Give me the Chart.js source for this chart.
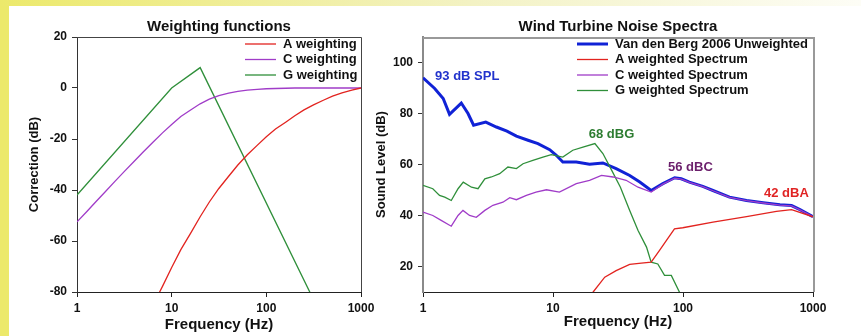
<!DOCTYPE html>
<html>
<head>
<meta charset="utf-8">
<script src="https://cdn.jsdelivr.net/npm/chart.js@4.4.1/dist/chart.umd.min.js"></script>
<style>
    body { margin: 0; background: #ffffff; }
    #page { position: relative; width: 861px; height: 336px; overflow: hidden; }
    #leftBar { position: absolute; left: 0; top: 0; width: 9px; height: 336px; background: #ece96b; }
    #topBar { position: absolute; left: 0; top: 0; width: 861px; height: 6px; background: linear-gradient(to right, #ece96b, #f3f2c4 55%, #fdfdf6); }
    #chartLeft { position: absolute; left: 9px; top: 6px; }
    #chartRight { position: absolute; left: 365px; top: 6px; }
</style>
</head>
<body>
<div id="page">
    <div id="leftBar"></div>
    <div id="topBar"></div>
    <canvas id="chartLeft" width="381" height="330"></canvas>
    <canvas id="chartRight" width="496" height="330"></canvas>
</div>
<script>
// Weighting functions (correction in dB)
const aWeightFreq = [6.3, 8, 10, 12.5, 16, 20, 25, 31.5, 40, 50, 63, 80, 100, 125, 160, 200, 250, 315, 400, 500, 630, 800, 1000];
const aWeightDb = [-85.4, -77.8, -70.4, -63.4, -56.7, -50.5, -44.7, -39.4, -34.6, -30.2, -26.2, -22.5, -19.1, -16.1, -13.4, -10.9, -8.6, -6.6, -4.8, -3.2, -1.9, -0.8, 0];
const cWeightFreq = [1, 1.25, 1.6, 2, 2.5, 3.15, 4, 5, 6.3, 8, 10, 12.5, 16, 20, 25, 31.5, 40, 50, 63, 80, 100, 125, 160, 200, 315, 500, 1000];
const cWeightDb = [-52.5, -48.7, -44.4, -40.6, -36.7, -32.8, -28.8, -25.1, -21.4, -17.6, -14.3, -11.2, -8.5, -6.2, -4.4, -3.0, -2.0, -1.3, -0.8, -0.5, -0.3, -0.2, -0.1, 0, 0, 0, 0];
const gWeightFreq = [1, 10, 20, 315];
const gWeightDb = [-42, 0, 8, -83];

// Wind turbine spectra (sound level in dB)
const unweightedFreq = [1, 1.23, 1.43, 1.6, 1.97, 2.22, 2.45, 3.04, 3.67, 4.42, 5.23, 6.42, 7.66, 9.43, 10.6, 11.9, 15.1, 19.1, 24.2, 30.6, 38.9, 46.5, 56.9, 70, 86.3, 97, 112, 142, 170, 228, 308, 414, 557, 684, 794, 1000];
const unweightedDb = [94, 89.8, 85.9, 79.7, 84.1, 80.0, 75.4, 76.6, 74.7, 73.1, 71.1, 69.5, 68.2, 65.8, 63.6, 61.0, 61.0, 60.1, 60.6, 58.4, 55.7, 53.1, 49.8, 52.5, 54.8, 54.4, 53.1, 51.4, 49.8, 47.2, 45.9, 45.0, 44.2, 43.9, 42.3, 39.5];
const aSpecFreq = [18, 20.3, 25, 30.6, 38.9, 47.8, 56.9, 66, 74.6, 86, 99.6, 170, 308, 523, 684, 1000];
const aSpecDb = [6, 9.9, 15.8, 18.4, 20.8, 21.3, 21.7, 26.3, 30.2, 34.8, 35.2, 37.4, 39.6, 41.6, 42.3, 39.5];
const cSpecFreq = [1, 1.19, 1.38, 1.65, 1.86, 2.03, 2.28, 2.57, 2.99, 3.45, 4.12, 4.65, 5.23, 6.24, 7.4, 8.9, 11.2, 15.1, 19.1, 23.6, 29, 36.5, 45.1, 56.9, 70, 86.3, 97, 112, 142, 170, 228, 308, 414, 557, 684, 794, 1000];
const cSpecDb = [41.3, 40, 38.1, 35.8, 40, 42, 40, 39.3, 42, 44, 45.2, 47, 46.2, 47.9, 49.2, 50.1, 49.2, 52.5, 53.8, 55.7, 55.1, 53.8, 51.1, 49.2, 52.3, 54.6, 54.3, 53.0, 51.3, 49.7, 47.1, 45.8, 44.9, 44.1, 43.8, 42.2, 39.5];
const gSpecFreq = [1, 1.19, 1.34, 1.47, 1.65, 1.86, 2.04, 2.36, 2.65, 2.99, 3.36, 3.89, 4.5, 5.23, 5.88, 7.0, 8.37, 9.7, 11.9, 14.2, 17.0, 21.0, 24.2, 28.3, 33.0, 38.9, 45.1, 52.4, 56.9, 64, 72.1, 81.3, 94, 100];
const gSpecDb = [51.8, 50.5, 47.9, 47.2, 45.9, 50.5, 53.1, 51.1, 50.5, 54.4, 55.1, 56.4, 59, 58.4, 60.3, 61.6, 62.9, 63.9, 62.9, 65.6, 66.8, 68.2, 64.3, 57.7, 51.1, 42, 34.1, 27.6, 21.7, 21.0, 16.5, 16.5, 9.9, 7];

// Axis ticks
const freqTicks = [1, 10, 100, 1000];
const correctionTicks = [-80, -60, -40, -20, 0, 20];
const levelTicks = [20, 40, 60, 80, 100];

const FONT = '"Liberation Sans", Arial, Helvetica, sans-serif';
Chart.defaults.font.family = FONT;
Chart.defaults.color = '#111';

function toPoints(xs, ys) {
    return xs.map((x, i) => ({ x: x, y: ys[i] }));
}

// box around the plot area (left and bottom come from the axes)
const framePlugin = {
    id: 'frame',
    beforeDatasetsDraw(chart, args, opts) {
        let a = chart.chartArea;
        let ctx = chart.ctx;
        let w = opts.width || 1;
        ctx.save();
        ctx.strokeStyle = opts.color;
        ctx.lineWidth = w;
        ctx.beginPath();
        ctx.moveTo(a.left, a.top + w / 2);
        ctx.lineTo(a.right + w / 2, a.top + w / 2);
        ctx.lineTo(a.right + w / 2, a.bottom);
        ctx.stroke();
        ctx.restore();
    }
};

// legend drawn inside the plot, top right
const insideLegend = {
    id: 'insideLegend',
    afterDraw(chart, args, opts) {
        let ctx = chart.ctx;
        let x0 = chart.chartArea.left + opts.left;
        let y = chart.chartArea.top + opts.top;
        ctx.save();
        ctx.font = 'bold 13px ' + FONT;
        ctx.textBaseline = 'middle';
        ctx.textAlign = 'left';
        chart.data.datasets.forEach(ds => {
            ctx.strokeStyle = ds.borderColor;
            ctx.lineWidth = ds.borderWidth;
            ctx.beginPath();
            ctx.moveTo(x0, y);
            ctx.lineTo(x0 + 31, y);
            ctx.stroke();
            ctx.fillStyle = '#111';
            ctx.fillText(ds.label, x0 + 38, y);
            y += opts.rowHeight;
        });
        ctx.restore();
    }
};

// text notes placed at data coordinates
const notesPlugin = {
    id: 'notes',
    afterDatasetsDraw(chart, args, opts) {
        let ctx = chart.ctx;
        let xs = chart.scales.x;
        let ys = chart.scales.y;
        ctx.save();
        ctx.font = 'bold 13px ' + FONT;
        ctx.textAlign = 'center';
        ctx.textBaseline = 'middle';
        (opts.items || []).forEach(n => {
            ctx.fillStyle = n.color;
            ctx.fillText(n.text, xs.getPixelForValue(n.x), ys.getPixelForValue(n.y));
        });
        ctx.restore();
    }
};

function lineSet(label, points, color, width, order) {
    return {
        label: label,
        data: points,
        borderColor: color,
        backgroundColor: color,
        borderWidth: width,
        pointRadius: 0,
        tension: 0,
        fill: false,
        order: order
    };
}

function freqAxis(titlePadBottom) {
    return {
        type: 'logarithmic',
        min: 1,
        max: 1000,
        afterBuildTicks: (scale) => { scale.ticks = freqTicks.map(v => ({ value: v })); },
        afterFit: (scale) => { scale.height = 44; scale.paddingLeft = 0; scale.paddingRight = 0; },
        ticks: {
            font: { size: 12, weight: 'bold' },
            padding: 4,
            maxRotation: 0,
            autoSkip: false,
            callback: (v) => String(v)
        },
        grid: { drawOnChartArea: false, tickLength: 5, color: '#222' },
        border: { color: '#222' },
        title: {
            display: true,
            text: 'Frequency (Hz)',
            font: { size: 15, weight: 'bold' },
            padding: { top: 0, bottom: titlePadBottom }
        }
    };
}

function levelAxis(title, min, max, tickList, width, titlePad, axisColor, axisWidth) {
    return {
        type: 'linear',
        min: min,
        max: max,
        afterBuildTicks: (scale) => { scale.ticks = tickList.map(v => ({ value: v })); },
        afterFit: (scale) => { scale.width = width; scale.paddingTop = 0; scale.paddingBottom = 0; },
        ticks: {
            font: { size: 12, weight: 'bold' },
            padding: 5
        },
        grid: { drawOnChartArea: false, tickLength: 5, color: '#333' },
        border: { color: axisColor, width: axisWidth },
        title: {
            display: true,
            text: title,
            font: { size: 13, weight: 'bold' },
            padding: { top: titlePad, bottom: 0 }
        }
    };
}

function chartTitle(text) {
    return {
        display: true,
        text: text,
        fullSize: false,
        font: { size: 15, weight: 'bold' },
        color: '#111',
        padding: { top: 12, bottom: 1 }
    };
}

new Chart(document.getElementById('chartLeft').getContext('2d'), {
    type: 'line',
    data: {
        datasets: [
            lineSet('A weighting', toPoints(aWeightFreq, aWeightDb), '#e2231f', 1.3, 0),
            lineSet('C weighting', toPoints(cWeightFreq, cWeightDb), '#a03cc8', 1.3, 1),
            lineSet('G weighting', toPoints(gWeightFreq, gWeightDb), '#2f8f3a', 1.3, 2)
        ]
    },
    options: {
        responsive: false,
        animation: false,
        layout: { padding: { left: 0, right: 29, top: 0, bottom: 0 } },
        scales: {
            x: freqAxis(2),
            y: levelAxis('Correction (dB)', -80, 20, correctionTicks, 68, 18, '#333', 1)
        },
        plugins: {
            legend: { display: false },
            tooltip: { enabled: false },
            title: chartTitle('Weighting functions'),
            frame: { color: '#444', width: 1 },
            insideLegend: { left: 168, top: 7, rowHeight: 15.5 }
        }
    },
    plugins: [framePlugin, insideLegend]
});

new Chart(document.getElementById('chartRight').getContext('2d'), {
    type: 'line',
    data: {
        datasets: [
            lineSet('Van den Berg 2006 Unweighted', toPoints(unweightedFreq, unweightedDb), '#1022d6', 3, 3),
            lineSet('A weighted Spectrum', toPoints(aSpecFreq, aSpecDb), '#e2231f', 1.3, 0),
            lineSet('C weighted Spectrum', toPoints(cSpecFreq, cSpecDb), '#a03cc8', 1.3, 1),
            lineSet('G weighted Spectrum', toPoints(gSpecFreq, gSpecDb), '#2f8f3a', 1.3, 2)
        ]
    },
    options: {
        responsive: false,
        animation: false,
        layout: { padding: { left: 0, right: 48, top: 0, bottom: 0 } },
        scales: {
            x: freqAxis(5),
            y: levelAxis('Sound Level (dB)', 10, 110, levelTicks, 58, 9, '#8a8a8a', 2)
        },
        plugins: {
            legend: { display: false },
            tooltip: { enabled: false },
            title: chartTitle('Wind Turbine Noise Spectra'),
            frame: { color: '#999', width: 2 },
            insideLegend: { left: 154, top: 7, rowHeight: 15.5 },
            notes: {
                items: [
                    { text: '93 dB SPL', x: 2.19, y: 94.6, color: '#2233cc' },
                    { text: '68 dBG', x: 28.2, y: 71.8, color: '#2e7d32' },
                    { text: '56 dBC', x: 114, y: 58.9, color: '#6b1f6b' },
                    { text: '42 dBA', x: 624, y: 48.7, color: '#e02424' }
                ]
            }
        }
    },
    plugins: [framePlugin, insideLegend, notesPlugin]
});
</script>
</body>
</html>
